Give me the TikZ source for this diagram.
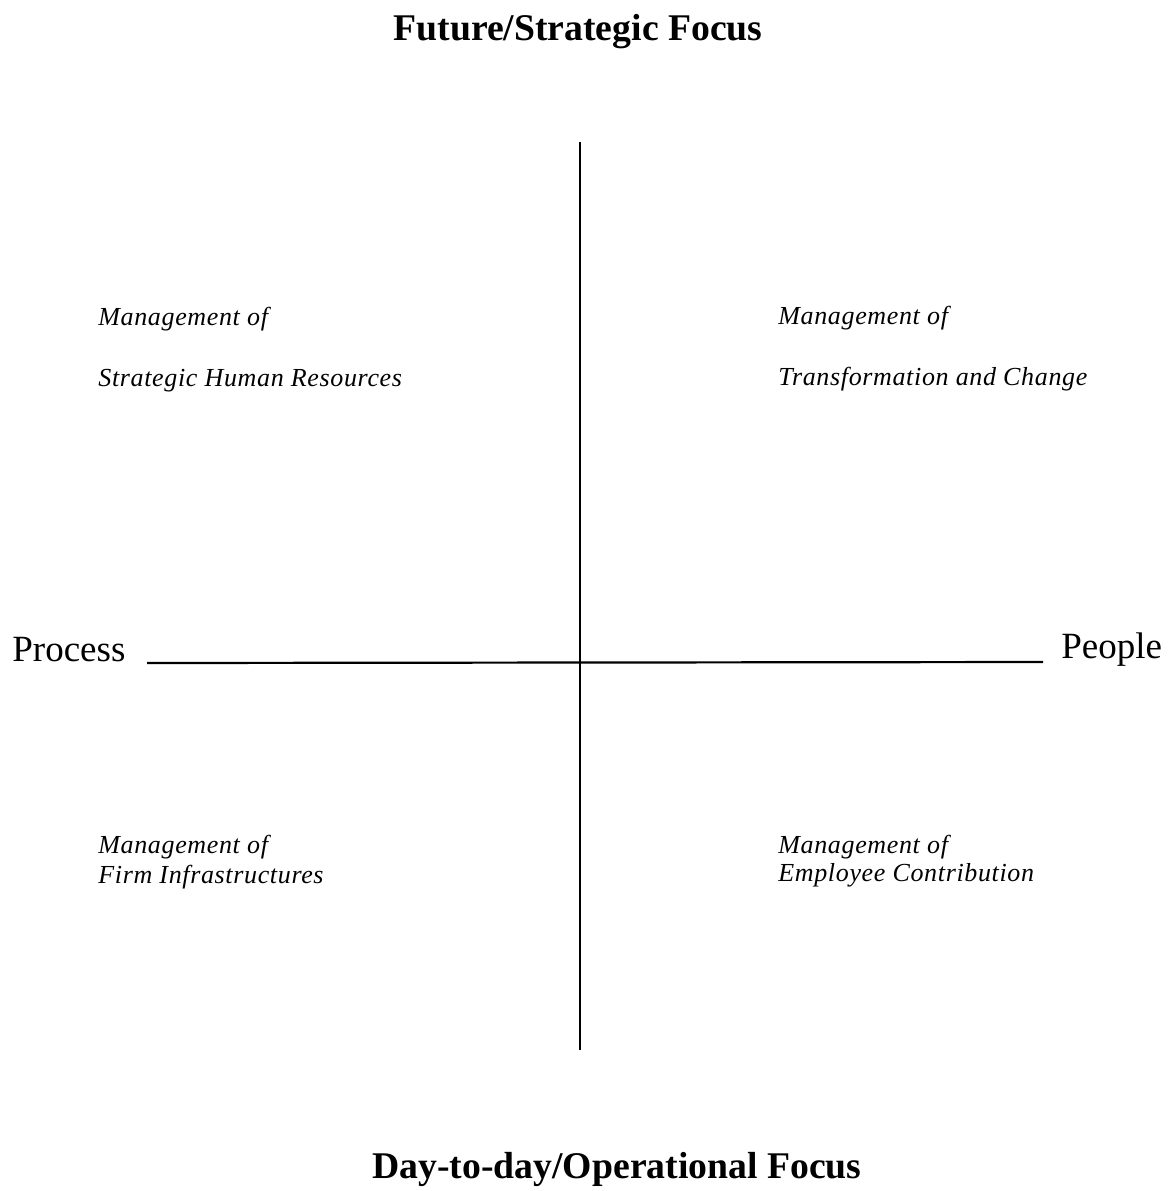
\documentclass[tikz,border=0pt]{standalone}
\usepackage{fontspec}
\setmainfont{Liberation Serif}
\newfontfamily\quadfont[LetterSpace=2.5]{Liberation Serif}
\begin{document}
\begin{tikzpicture}[x=0.5pt,y=-0.5pt,
  axis/.style={line width=1.1pt},
  heading/.style={anchor=base,inner sep=0pt,font=\fontsize{18.85}{22}\selectfont\bfseries},
  pole/.style={anchor=base west,inner sep=0pt,font=\fontsize{18.5}{22}\selectfont},
  quad/.style={anchor=base west,inner sep=0pt,font=\quadfont\fontsize{13}{15}\selectfont\itshape}]
  \useasboundingbox (0,0) rectangle (1173,1191);

  % headings
  \node[heading] (top) at (578,40) {Future/Strategic Focus};
  \node[heading,anchor=base west] (bottom) at (372,1178) {Day-to-day/Operational Focus};

  % axes
  \coordinate (vtop) at (580,142);
  \coordinate (vbot) at (580,1050);
  \coordinate (hl) at (147,663);
  \coordinate (hr) at (1043,662);
  \draw[axis] (vtop) -- (vbot);
  \draw[axis] (hl) -- (hr);

  % poles of the horizontal axis
  \node[pole] (process) at (12,661) {Process};
  \node[pole] (people) at (1061,658) {People};

  % quadrant labels
  \node[quad] (q1a) at (98,325) {Management of};
  \node[quad] (q1b) at (98,386) {Strategic Human Resources};
  \node[quad] (q2a) at (778,324) {Management of};
  \node[quad] (q2b) at (778,385) {Transformation and Change};
  \node[quad] (q3a) at (98,853) {Management of};
  \node[quad] (q3b) at (98,883) {Firm Infrastructures};
  \node[quad] (q4a) at (778,853) {Management of};
  \node[quad] (q4b) at (778,881) {Employee Contribution};
\end{tikzpicture}
\end{document}
